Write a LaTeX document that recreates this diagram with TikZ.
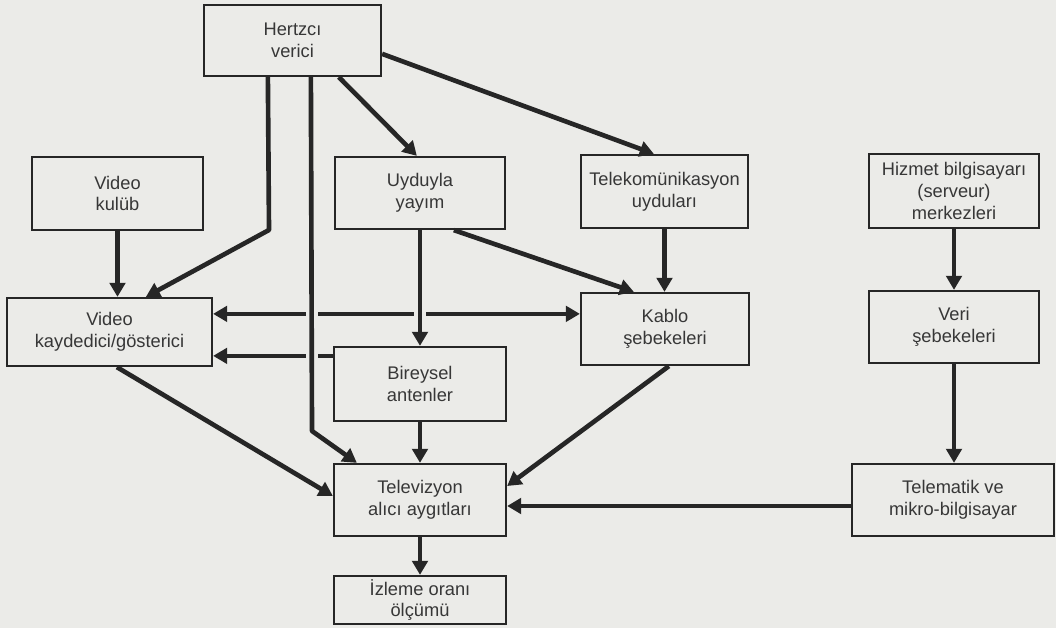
\documentclass[tikz,border=0pt]{standalone}
\usepackage{fontspec}
\setmainfont{Liberation Sans}
\usetikzlibrary{arrows.meta,calc}
\definecolor{bgc}{RGB}{235,235,232}
\definecolor{ink}{RGB}{38,38,38}
\definecolor{txt}{RGB}{55,55,55}
\begin{document}
\begin{tikzpicture}[x=0.025cm,y=-0.025cm,
 box/.style={draw=ink, line width=1.6pt, fill=bgc, align=center, inner sep=0pt, text=txt, font=\fontsize{13}{15.5}\selectfont},
 arr/.style={draw=ink, line width=3.3pt, -{Triangle[length=10pt,width=11pt]}, line join=round},
 arrtwo/.style={draw=ink, line width=3.3pt, {Triangle[length=10pt,width=11pt]}-{Triangle[length=10pt,width=11pt]}},
 gapline/.style={draw=bgc, line width=9pt}]
\fill[bgc] (0,0) rectangle (1056,628);
\useasboundingbox (0,0) rectangle (1056,628);

% boxes
\node[box, minimum width=177*0.025cm, minimum height=71*0.025cm] (hz) at (292.5,40.5) {Hertzcı\\verici};
\node[box, minimum width=171*0.025cm, minimum height=73*0.025cm] (vk) at (117.5,193.5) {Video\\kulüb};
\node[box, minimum width=170*0.025cm, minimum height=72*0.025cm] (uy) at (420,193) {Uyduyla\\yayım};
\node[box, minimum width=167*0.025cm, minimum height=73*0.025cm] (tu) at (664.5,191.5) {Telekomünikasyon\\uyduları};
\node[box, minimum width=170*0.025cm, minimum height=74*0.025cm] (hb) at (954,191) {Hizmet bilgisayarı\\(serveur)\\merkezleri};
\node[box, minimum width=205*0.025cm, minimum height=68*0.025cm] (vg) at (109.5,332) {Video\\kaydedici/gösterici};
\node[box, minimum width=168*0.025cm, minimum height=72*0.025cm] (kb) at (665,329) {Kablo\\şebekeleri};
\node[box, minimum width=170*0.025cm, minimum height=72*0.025cm] (vs) at (954,327) {Veri\\şebekeleri};
\node[box, minimum width=172*0.025cm, minimum height=74*0.025cm] (ba) at (420,384) {Bireysel\\antenler};
\node[box, minimum width=172*0.025cm, minimum height=72*0.025cm] (tv) at (420,500) {Televizyon\\alıcı aygıtları};
\node[box, minimum width=172*0.025cm, minimum height=48*0.025cm] (io) at (420,600) {İzleme oranı\\ölçümü};
\node[box, minimum width=202*0.025cm, minimum height=72*0.025cm] (tm) at (953,500) {Telematik ve\\mikro-bilgisayar};

% horizontal connectors (drawn first, broken at crossings)
\draw[arrtwo] ($(vg.north east)+(0,17)$) -- ($(kb.north west)+(0,22)$);
\draw[arr] ($(ba.north west)+(0,10)$) coordinate (b1) -- (b1 -| vg.east);
\draw[gapline] (312,308) -- (312,322);
\draw[gapline] (420,308) -- (420,322);
\draw[gapline] (312,350) -- (312,364);

% connectors
\draw[arr] ($(hz.south west)+(65,0)$) -- (269,230) -- ($(vg.north west)+(140,0)$);
\draw[arr] ($(hz.south west)+(108,0)$) -- (312,431) -- ($(tv.north west)+(24,0)$);
\draw[arr] ($(hz.south west)+(136,0)$) -- ($(uy.north west)+(83,0)$);
\draw[arr] ($(hz.north east)+(0,50)$) -- ($(tu.north west)+(74,0)$);
\draw[arr] (vk.south) -- (vk.south |- vg.north);
\draw[arr] (uy.south) -- (ba.north);
\draw[arr] ($(uy.south west)+(120,0)$) -- ($(kb.north west)+(54,0)$);
\draw[arr] (tu.south) -- (tu.south |- kb.north);
\draw[arr] (hb.south) -- (vs.north);
\draw[arr] (vs.south) -- (vs.south |- tm.north);
\draw[arr] ($(vg.south west)+(111,0)$) -- ($(tv.west)+(0,-4)$);
\draw[arr] (ba.south) -- (tv.north);
\draw[arr] ($(kb.south west)+(89,0)$) -- ($(tv.east)+(0,-14)$);
\draw[arr] ($(tm.west)+(0,6)$) coordinate (t1) -- (t1 -| tv.east);
\draw[arr] (tv.south) -- (io.north);
\end{tikzpicture}
\end{document}
